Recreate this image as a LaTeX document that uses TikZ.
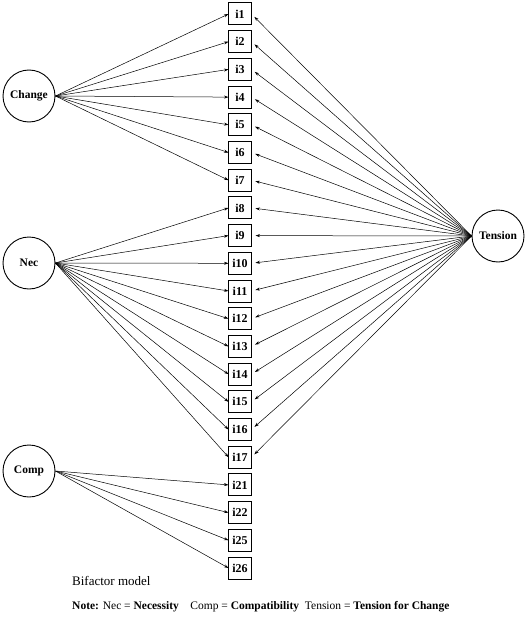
\documentclass[tikz,border=0pt]{standalone}
\usepackage{fontspec}
\setmainfont{Liberation Serif}
\usetikzlibrary{positioning,arrows.meta}

\begin{document}
\begin{tikzpicture}[
    x=1pt, y=-1pt,
    node distance=5.7pt,
    item/.style={draw, line width=1pt, minimum width=23pt, minimum height=22pt, inner sep=0pt, outer sep=0pt,
        font=\fontsize{12}{12}\selectfont\bfseries},
    factor/.style={draw, circle, line width=0.9pt, minimum size=52pt, inner sep=0pt,
        font=\fontsize{11.5}{12}\selectfont\bfseries},
    load/.style={-{Stealth[length=4.5pt,width=3pt]}, line width=0.5pt},
    gload/.style={load, shorten >=4pt}
]
    \useasboundingbox (0,0) rectangle (526,618);

    % observed items
    \node[item] at (240,14) (i1) {i1};
    \node[item, below=of i1] (i2) {i2};
    \node[item, below=of i2] (i3) {i3};
    \node[item, below=of i3] (i4) {i4};
    \node[item, below=of i4] (i5) {i5};
    \node[item, below=of i5] (i6) {i6};
    \node[item, below=of i6] (i7) {i7};
    \node[item, below=of i7] (i8) {i8};
    \node[item, below=of i8] (i9) {i9};
    \node[item, below=of i9] (i10) {i10};
    \node[item, below=of i10] (i11) {i11};
    \node[item, below=of i11] (i12) {i12};
    \node[item, below=of i12] (i13) {i13};
    \node[item, below=of i13] (i14) {i14};
    \node[item, below=of i14] (i15) {i15};
    \node[item, below=of i15] (i16) {i16};
    \node[item, below=of i16] (i17) {i17};
    \node[item, below=of i17] (i21) {i21};
    \node[item, below=of i21] (i22) {i22};
    \node[item, below=of i22] (i25) {i25};
    \node[item, below=of i25] (i26) {i26};

    % factors
    \node[factor] at (29,96) (change) {Change};
    \node[factor] at (29,263) (nec) {Nec};
    \node[factor] at (29,471) (comp) {Comp};
    \node[factor] at (498,236) (tension) {Tension};

    \draw[load] (change.east) -- (i1.west);
    \draw[load] (change.east) -- (i2.west);
    \draw[load] (change.east) -- (i3.west);
    \draw[load] (change.east) -- (i4.west);
    \draw[load] (change.east) -- (i5.west);
    \draw[load] (change.east) -- (i6.west);
    \draw[load] (change.east) -- (i7.west);

    \draw[load] (nec.east) -- (i8.west);
    \draw[load] (nec.east) -- (i9.west);
    \draw[load] (nec.east) -- (i10.west);
    \draw[load] (nec.east) -- (i11.west);
    \draw[load] (nec.east) -- (i12.west);
    \draw[load] (nec.east) -- (i13.west);
    \draw[load] (nec.east) -- (i14.west);
    \draw[load] (nec.east) -- (i15.west);
    \draw[load] (nec.east) -- (i16.west);
    \draw[load] (nec.east) -- (i17.west);

    \draw[load] (comp.east) -- (i21.west);
    \draw[load] (comp.east) -- (i22.west);
    \draw[load] (comp.east) -- (i25.west);
    \draw[load] (comp.east) -- (i26.west);

    % general factor
    \draw[gload] (tension.west) -- (i1.east);
    \draw[gload] (tension.west) -- (i2.east);
    \draw[gload] (tension.west) -- (i3.east);
    \draw[gload] (tension.west) -- (i4.east);
    \draw[gload] (tension.west) -- (i5.east);
    \draw[gload] (tension.west) -- (i6.east);
    \draw[gload] (tension.west) -- (i7.east);
    \draw[gload] (tension.west) -- (i8.east);
    \draw[gload] (tension.west) -- (i9.east);
    \draw[gload] (tension.west) -- (i10.east);
    \draw[gload] (tension.west) -- (i11.east);
    \draw[gload] (tension.west) -- (i12.east);
    \draw[gload] (tension.west) -- (i13.east);
    \draw[gload] (tension.west) -- (i14.east);
    \draw[gload] (tension.west) -- (i15.east);
    \draw[gload] (tension.west) -- (i16.east);
    \draw[gload] (tension.west) -- (i17.east);

    \node[anchor=west, inner sep=0pt, font=\fontsize{13}{15}\selectfont] at (72,581) (title) {Bifactor model};
    \node[anchor=west, inner sep=0pt, font=\fontsize{11.5}{13}\selectfont] at (72,607) (note)
        {\textbf{Note:} Nec = \textbf{Necessity}\quad Comp = \textbf{Compatibility}\enspace Tension = \textbf{Tension for Change}};
\end{tikzpicture}
\end{document}
